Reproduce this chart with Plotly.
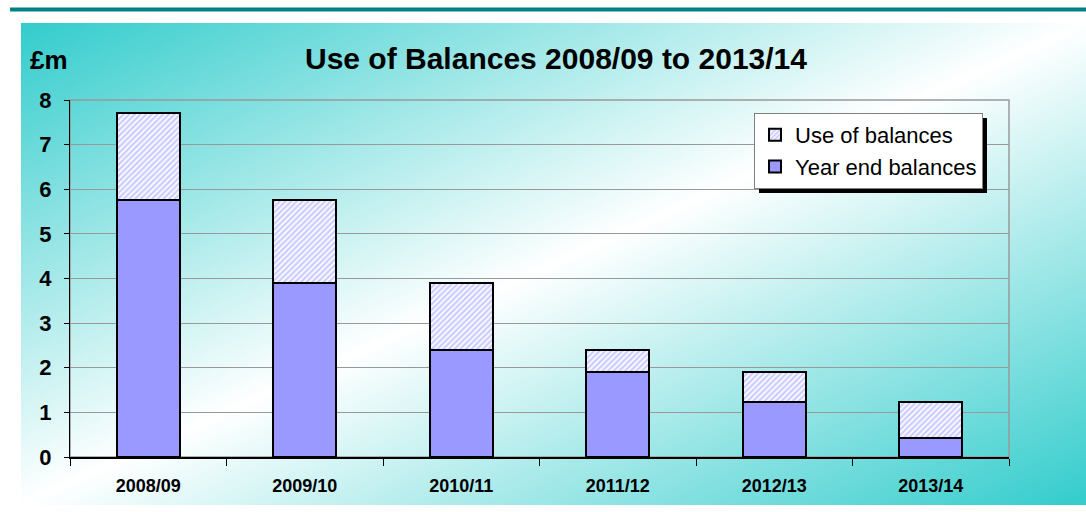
import base64
import plotly.graph_objects as go

# Financial years and balances (£m)
years = ["2008/09", "2009/10", "2010/11", "2011/12", "2012/13", "2013/14"]
year_end_balances = [5.75, 3.91, 2.40, 1.90, 1.23, 0.42]
use_of_balances = [1.96, 1.84, 1.51, 0.50, 0.67, 0.81]
y_ticks = [0, 1, 2, 3, 4, 5, 6, 7, 8]

W, H = 1086, 512
ML, MR, MT, MB = 70, 77, 100, 55
PW, PH = W - ML - MR, H - MT - MB


def px_x(x):
    return (x - ML) / PW


def px_y(y):
    return (H - MB - y) / PH


FONT = "Arial, Liberation Sans, sans-serif"
PURPLE = "#9999ff"

# diagonal teal-white-teal backdrop
svg = (
    '<svg xmlns="http://www.w3.org/2000/svg" width="1065" height="482" '
    'preserveAspectRatio="none">'
    '<defs><linearGradient id="g" x1="0" y1="0" x2="1" y2="1">'
    '<stop offset="0" stop-color="#33cccc"/>'
    '<stop offset="0.5" stop-color="#ffffff"/>'
    '<stop offset="1" stop-color="#33cccc"/>'
    '</linearGradient></defs>'
    '<rect width="1065" height="482" fill="url(#g)"/></svg>'
)
bg_src = "data:image/svg+xml;base64," + base64.b64encode(svg.encode()).decode()

fig = go.Figure()
fig.add_trace(go.Bar(
    name="Year end balances", x=years, y=year_end_balances,
    marker=dict(color=PURPLE, line=dict(color="black", width=2)),
    width=0.4,
))
fig.add_trace(go.Bar(
    name="Use of balances", x=years, y=use_of_balances,
    marker=dict(color="white", line=dict(color="black", width=2),
                pattern=dict(shape="/", fgcolor=PURPLE, bgcolor="white",
                             size=4, solidity=0.6)),
    width=0.4,
))

LEG_L, LEG_T = 754, 113
LEG_W, LEG_H = 228, 75

shapes = [
    # teal rule across the top
    dict(type="line", xref="paper", yref="paper",
         x0=px_x(10), x1=px_x(1086), y0=px_y(9.5), y1=px_y(9.5),
         line=dict(color="#008080", width=4), layer="above"),
    # plot frame
    dict(type="rect", xref="paper", yref="paper", x0=0, x1=1, y0=0, y1=1,
         line=dict(color="#999999", width=1.5), layer="below"),
    # legend drop shadow
    dict(type="rect", xref="paper", yref="paper",
         x0=px_x(LEG_L + 5), x1=px_x(LEG_L + 5 + LEG_W),
         y0=px_y(LEG_T + 5 + LEG_H), y1=px_y(LEG_T + 5),
         fillcolor="black", line=dict(width=0), layer="above"),
]

fig.update_layout(
    width=W, height=H,
    margin=dict(l=ML, r=MR, t=MT, b=MB),
    barmode="stack",
    paper_bgcolor="white",
    plot_bgcolor="rgba(0,0,0,0)",
    font=dict(family=FONT, color="black"),
    title=dict(text="<b>Use of Balances 2008/09 to 2013/14</b>",
               x=556 / W, xanchor="center", y=1 - 58 / H, yanchor="middle",
               font=dict(size=30, family=FONT, color="black")),
    showlegend=True,
    legend=dict(
        x=px_x(LEG_L), y=px_y(LEG_T), xanchor="left", yanchor="top",
        bgcolor="white", bordercolor="#808080", borderwidth=1,
        font=dict(size=22, family=FONT, color="black"),
        traceorder="reversed", tracegroupgap=0,
        itemsizing="constant",
    ),
    images=[dict(source=bg_src, xref="paper", yref="paper",
                 x=px_x(21), y=px_y(23), sizex=px_x(1086) - px_x(21),
                 sizey=px_y(23) - px_y(505), sizing="stretch",
                 xanchor="left", yanchor="top", layer="below")],
    shapes=shapes,
    annotations=[dict(text="<b>£m</b>", xref="paper", yref="paper",
                      x=px_x(28), y=px_y(60), xanchor="left", yanchor="middle",
                      showarrow=False, font=dict(size=26, family=FONT))],
    bargap=0.6,
)

fig.update_yaxes(
    range=[0, 8], tickvals=y_ticks, showgrid=True, gridcolor="#999999",
    gridwidth=1, showline=True, linecolor="black", linewidth=1,
    ticks="outside", ticklen=5, tickcolor="black", zeroline=False,
    ticklabelstandoff=8,
    tickfont=dict(size=22, family=FONT, weight="bold"),
)
fig.update_xaxes(
    showline=True, linecolor="black", linewidth=1.5,
    ticks="outside", tickson="boundaries", ticklen=7, tickcolor="black",
    ticklabelstandoff=12,
    tickfont=dict(size=18, family=FONT, weight="bold"),
    showgrid=False,
)

fig.write_html("out.html")
